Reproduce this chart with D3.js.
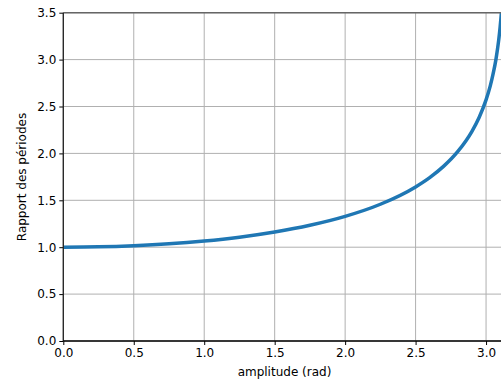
<!DOCTYPE html>
<html>
<head>
<meta charset="utf-8">
<script src="https://cdn.jsdelivr.net/npm/d3@7"></script>
<style>
  body { margin: 0; background: #fff; }
  svg { display: block; font-family: "DejaVu Sans", sans-serif; }
</style>
</head>
<body>
<svg id="chart" width="501" height="381"></svg>
<script>
// amplitude (rad) and period ratio
var amplitude = [0, 0.25, 0.5, 0.75, 1.0, 1.25, 1.5, 1.75, 2.0, 2.25, 2.5, 2.6, 2.7, 2.8, 2.9, 2.95, 3.0, 3.03, 3.05, 3.07, 3.08, 3.09, 3.1, 3.11, 3.12];
var ratio = [1.0, 1.004, 1.016, 1.036, 1.066, 1.107, 1.162, 1.234, 1.329, 1.458, 1.643, 1.742, 1.864, 2.021, 2.236, 2.381, 2.571, 2.72, 2.847, 3.0, 3.099, 3.21, 3.349, 3.52, 3.75];
var xTicks = [0.0, 0.5, 1.0, 1.5, 2.0, 2.5, 3.0];
var yTicks = [0.0, 0.5, 1.0, 1.5, 2.0, 2.5, 3.0, 3.5];

var margin = { top: 12.7, left: 63.3 },
    plotW = 442.7,
    plotH = 328.3;

var x = d3.scaleLinear().domain([0, Math.PI]).range([0, plotW]);
var y = d3.scaleLinear().domain([0, 3.5]).range([plotH, 0]);

var svg = d3.select("#chart");
var g = svg.append("g")
  .attr("transform", "translate(" + margin.left + "," + margin.top + ")");

svg.append("defs").append("clipPath").attr("id", "clip")
  .append("rect").attr("x", 0).attr("y", 0).attr("width", plotW).attr("height", plotH);

// grid
g.append("g").selectAll("line").data(xTicks).enter().append("line")
  .attr("x1", d => x(d)).attr("x2", d => x(d))
  .attr("y1", 0).attr("y2", plotH)
  .attr("stroke", "#b0b0b0").attr("stroke-width", 1);
g.append("g").selectAll("line").data(yTicks).enter().append("line")
  .attr("x1", 0).attr("x2", plotW)
  .attr("y1", d => y(d)).attr("y2", d => y(d))
  .attr("stroke", "#b0b0b0").attr("stroke-width", 1);

// curve
var pts = amplitude.map((a, i) => [a, ratio[i]]);
g.append("path")
  .datum(pts)
  .attr("clip-path", "url(#clip)")
  .attr("fill", "none")
  .attr("stroke", "#1f77b4")
  .attr("stroke-width", 3.5)
  .attr("stroke-linecap", "square")
  .attr("d", d3.line().x(d => x(d[0])).y(d => y(d[1])).curve(d3.curveMonotoneX));

// axes
var xAxis = g.append("g")
  .attr("transform", "translate(0," + plotH + ")")
  .call(d3.axisBottom(x).tickValues(xTicks).tickFormat(d3.format(".1f")).tickSizeInner(4).tickSizeOuter(0).tickPadding(3));
var yAxis = g.append("g")
  .call(d3.axisLeft(y).tickValues(yTicks).tickFormat(d3.format(".1f")).tickSizeInner(4).tickSizeOuter(0).tickPadding(3));

[xAxis, yAxis].forEach(function (ax) {
  ax.select(".domain").remove();
  ax.selectAll("text").attr("font-size", 12).attr("font-family", "DejaVu Sans").attr("fill", "#000");
  ax.selectAll("line").attr("stroke", "#000");
});

// spines
g.append("line").attr("x1", 0).attr("x2", plotW).attr("y1", 0).attr("y2", 0)
  .attr("stroke", "#666").attr("stroke-width", 1.5);
g.append("line").attr("x1", 0).attr("x2", 0).attr("y1", 0).attr("y2", plotH)
  .attr("stroke", "#222").attr("stroke-width", 1.3);
g.append("line").attr("x1", 0).attr("x2", plotW).attr("y1", plotH).attr("y2", plotH)
  .attr("stroke", "#000").attr("stroke-width", 1.5);

// labels
svg.append("text")
  .attr("x", 284.5).attr("y", 376)
  .attr("text-anchor", "middle")
  .attr("font-size", 12)
  .text("amplitude (rad)");

svg.append("text")
  .attr("transform", "translate(26,177) rotate(-90)")
  .attr("text-anchor", "middle")
  .attr("font-size", 12)
  .text("Rapport des périodes");
</script>
</body>
</html>
